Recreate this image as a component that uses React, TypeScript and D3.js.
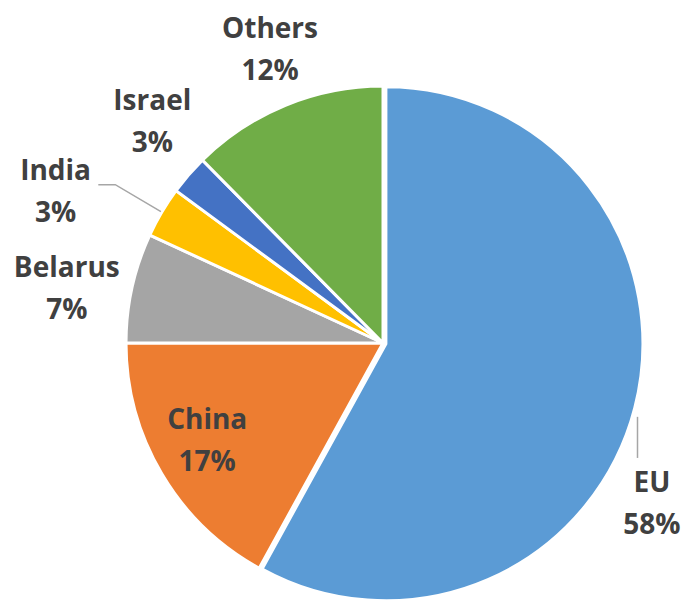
import React from 'react';
import * as d3 from 'd3';

const categories = ['EU', 'China', 'Belarus', 'India', 'Israel', 'Others'];
const shares = [58, 17, 6.9, 3.2, 2.5, 12.4];
const shareLabels = ['58%', '17%', '7%', '3%', '3%', '12%'];
const colors = ['#5B9BD5', '#ED7D31', '#A5A5A5', '#FFC000', '#4472C4', '#70AD47'];

const W = 684;
const H = 603;
const CX = 383;
const CY = 343;
const R = 257;
const FONT = "'Open Sans', 'Noto Sans', sans-serif";
const FS = 28;
const LINE_GAP = 42;

// layout (not data): explosion and label placement in polar terms
const explodeBy: Record<string, number> = { EU: 3 };
const labelLayout: Record<string, { r: number; da: number }> = {
  EU: { r: 310, da: 16.5 },
  China: { r: 201, da: 1.6 },
  Belarus: { r: 321, da: -2.5 },
  India: { r: 361, da: -5.7 },
  Israel: { r: 320, da: 3 },
  Others: { r: 315, da: 1.3 },
};

const polar = (a: number, r: number): [number, number] => [Math.sin(a) * r, -Math.cos(a) * r];
const rad = (deg: number) => (deg * Math.PI) / 180;

export default function App() {
  const data = categories.map((c, i) => ({ name: c, value: shares[i], label: shareLabels[i], color: colors[i] }));
  const pie = d3.pie<any>().sort(null).value((d: any) => d.value);
  const arcs = pie(data);
  const arc = d3.arc<any>().innerRadius(0).outerRadius(R);

  return (
    <svg width={W} height={H} style={{ position: 'absolute', left: 0, top: 0, background: '#fff' }}>
      <g>
        {arcs.map((a) => {
          const mid = (a.startAngle + a.endAngle) / 2;
          const ex = explodeBy[a.data.name] || 0;
          const [ox, oy] = polar(mid, ex);
          return (
            <path
              key={a.data.name}
              d={arc(a) as string}
              transform={`translate(${CX + ox},${CY + oy})`}
              fill={a.data.color}
              stroke="#ffffff"
              strokeWidth={3}
            />
          );
        })}
      </g>
      <g>
        {arcs.map((a) => {
          const mid = (a.startAngle + a.endAngle) / 2;
          const ex = explodeBy[a.data.name] || 0;
          const [ox, oy] = polar(mid, ex);
          const cx = CX + ox;
          const cy = CY + oy;
          const lay = labelLayout[a.data.name];
          const [lx, ly] = polar(mid + rad(lay.da), lay.r);
          const x = cx + lx;
          const y = cy + ly;
          let leader: string | null = null;
          if (a.data.name === 'India') {
            const [sx, sy] = polar(mid, R + 1);
            const [ex2, ey2] = polar(mid, R + 54);
            leader = `M${cx + sx},${cy + sy}L${cx + ex2},${cy + ey2}L${cx + ex2 - 17},${cy + ey2}`;
          }
          if (a.data.name === 'EU') {
            const [sx, sy] = polar(mid + rad(1.8), R + 5);
            leader = `M${cx + sx},${cy + sy}L${cx + sx},${y - 45}`;
          }
          return (
            <g key={a.data.name}>
              {leader && <path d={leader} fill="none" stroke="#A6A6A6" strokeWidth={1.5} />}
              <text
                x={x}
                textAnchor="middle"
                fontFamily={FONT}
                fontWeight="bold"
                fontSize={FS}
                fill="#404040"
              >
                <tspan x={x} y={y - 11}>{a.data.name}</tspan>
                <tspan x={x} y={y - 11 + LINE_GAP}>{a.data.label}</tspan>
              </text>
            </g>
          );
        })}
      </g>
    </svg>
  );
}
